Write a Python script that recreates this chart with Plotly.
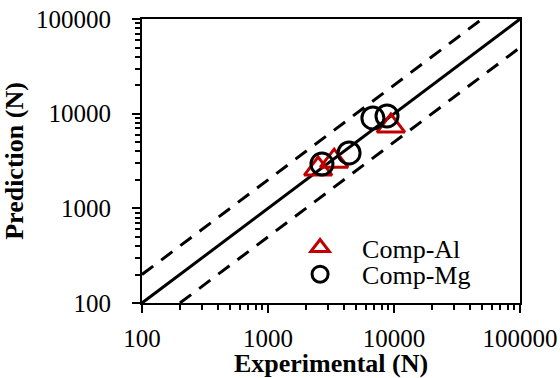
import plotly.graph_objects as go

# Data
al_exp = [2500, 3350, 9450]
al_pred = [2600, 3150, 7400]
mg_exp = [2680, 4400, 6800, 8800]
mg_pred = [2940, 3850, 9000, 9450]

line_x = [100, 100000]
line_1to1 = [100, 100000]
upper_x = [100, 50000]
upper_y = [200, 100000]
lower_x = [200, 100000]
lower_y = [100, 50000]

tickvals = [100, 1000, 10000, 100000]
ticktext = ["100", "1000", "10000", "100000"]

font = "Liberation Serif"

fig = go.Figure()
fig.add_trace(go.Scatter(x=line_x, y=line_1to1, mode="lines",
                         line=dict(color="black", width=3), showlegend=False))
fig.add_trace(go.Scatter(x=upper_x, y=upper_y, mode="lines",
                         line=dict(color="black", width=3, dash="14px,10px"), showlegend=False))
fig.add_trace(go.Scatter(x=lower_x, y=lower_y, mode="lines",
                         line=dict(color="black", width=3, dash="14px,10px"), showlegend=False))
fig.add_trace(go.Scatter(x=al_exp, y=al_pred, mode="markers", name="Comp-Al", legend="legend",
                         marker=dict(symbol="triangle-up-open", size=24, color="#c00000",
                                     line=dict(width=3, color="#c00000"))))
fig.add_trace(go.Scatter(x=mg_exp, y=mg_pred, mode="markers", name="Comp-Mg", legend="legend2",
                         marker=dict(symbol="circle-open", size=22, color="black",
                                     line=dict(width=3, color="black"))))

axis_common = dict(type="log", tickvals=tickvals, ticktext=ticktext,
                   ticks="outside", ticklen=8, tickwidth=2, tickcolor="black",
                   minor=dict(ticks="outside", ticklen=5, tickwidth=1.5, tickcolor="black",
                              dtick="D1", showgrid=False),
                   showline=True, linecolor="black", linewidth=2, mirror=True,
                   showgrid=False, zeroline=False, automargin=False,
                   ticklabeloverflow="allow",
                   tickfont=dict(family=font, size=25, color="black"))

fig.update_xaxes(range=[2, 5],
                 title=dict(text="<b>Experimental (N)</b>",
                            font=dict(family=font, size=26, color="black")),
                 ticklabelstandoff=4, **axis_common)
fig.update_yaxes(range=[2, 5],
                 title=dict(text="<b>Prediction (N)</b>",
                            font=dict(family=font, size=26, color="black")),
                 ticklabelstandoff=16, **axis_common)

legend_common = dict(xanchor="left", yanchor="middle", bgcolor="rgba(0,0,0,0)",
                     itemwidth=74, font=dict(family=font, size=26, color="black"))
fig.update_layout(width=560, height=378,
                  margin=dict(l=142, r=40, t=19, b=75),
                  paper_bgcolor="white", plot_bgcolor="white",
                  legend=dict(x=0.36, y=0.195, **legend_common),
                  legend2=dict(x=0.36, y=0.101, **legend_common))

fig.write_html("out.html", config={"displayModeBar": False},
               post_script="document.body.style.margin='0px';")
